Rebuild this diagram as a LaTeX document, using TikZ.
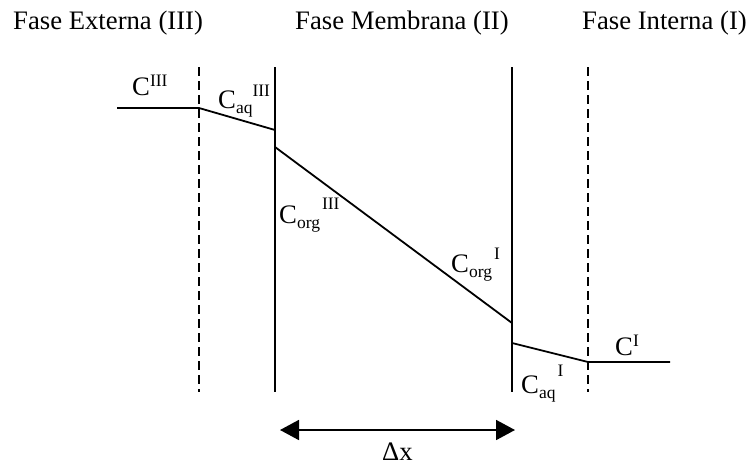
\documentclass[tikz,border=0pt]{standalone}
\usepackage{fontspec}
\setmainfont{Liberation Serif}
\usetikzlibrary{arrows.meta}
\newcommand\lblsub[1]{\raisebox{-5pt}{\fontsize{17.5}{17.5}\selectfont #1}}
\newcommand\lblsup[2]{\raisebox{#1}{\fontsize{17.5}{17.5}\selectfont #2}}
\tikzset{
  wall/.style={line width=1.8pt},
  interface/.style={line width=1.8pt, dash pattern=on 9pt off 5pt},
  profile/.style={line width=1.8pt},
  txt/.style={inner sep=0pt, anchor=base west, font=\fontsize{26.7}{31}\selectfont},
  dimarrow/.style={line width=1.8pt, {Triangle[length=19pt,width=20pt]}-{Triangle[length=19pt,width=20pt]}}
}
\begin{document}
\begin{tikzpicture}[x=1pt,y=-1pt]
\useasboundingbox (0,0) rectangle (746,472);
% phase headings
\node[txt] (hext) at (13,29) {Fase Externa (III)};
\node[txt] (hmem) at (295,29) {Fase Membrana (II)};
\node[txt] (hint) at (582,29) {Fase Interna (I)};
% boundaries
\coordinate (d1t) at (199,67); \coordinate (d1b) at (199,392);
\coordinate (w1t) at (275,67); \coordinate (w1b) at (275,392);
\coordinate (w2t) at (512,67); \coordinate (w2b) at (512,392);
\coordinate (d2t) at (588,67); \coordinate (d2b) at (588,392);
\draw[interface] (d1t) -- (d1b);
\draw[wall] (w1t) -- (w1b);
\draw[wall] (w2t) -- (w2b);
\draw[interface] (d2t) -- (d2b);
% concentration profile
\coordinate (p0) at (117,108);
\coordinate (p1) at (199,108);
\coordinate (p2) at (275,130);
\coordinate (p3) at (275,147);
\coordinate (p4) at (512,323);
\coordinate (p5) at (512,343);
\coordinate (p6) at (588,362);
\coordinate (p7) at (670,362);
\draw[profile] (p0) -- (p1) -- (p2);
\draw[profile] (p3) -- (p4);
\draw[profile] (p5) -- (p6) -- (p7);
% labels
\node[txt] (c3) at (132,95) {C\lblsup{9pt}{III}};
\node[txt] (caq3) at (218,108) {C\lblsub{aq}\lblsup{11.5pt}{III}};
\node[txt] (corg3) at (279,223) {C\lblsub{org}\kern2pt\lblsup{13.5pt}{III}};
\node[txt] (corg1) at (451,272) {C\lblsub{org}\kern2pt\lblsup{12.5pt}{I}};
\node[txt] (caq1) at (521,393) {C\lblsub{aq}\kern2pt\lblsup{16.5pt}{I}};
\node[txt] (c1) at (615,355) {C\lblsup{9pt}{I}};
% thickness arrow
\coordinate (al) at (280,430);
\coordinate (ar) at (515,430);
\draw[dimarrow] (al) -- (ar);
\node[txt] (dx) at (382,460) {Δx};
\end{tikzpicture}
\end{document}
